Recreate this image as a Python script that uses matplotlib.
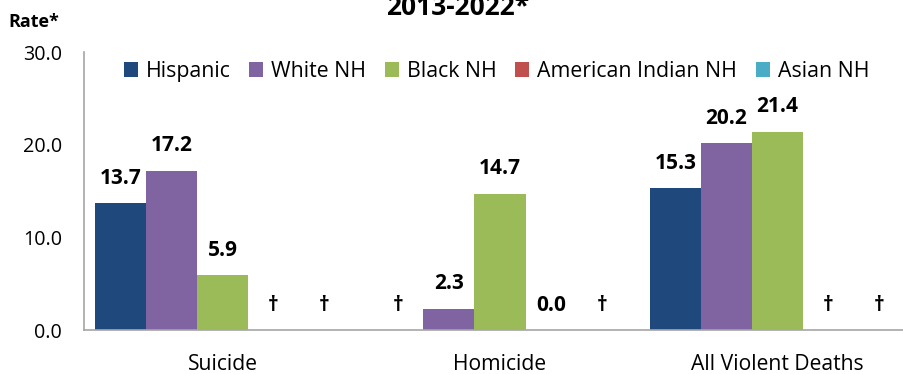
import numpy as np
import matplotlib
matplotlib.use("Agg")
import matplotlib.pyplot as plt
from matplotlib.patches import Patch

plt.rcParams["font.family"] = ["Open Sans", "DejaVu Sans"]

categories = ["Suicide", "Homicide", "All Violent Deaths"]
series_names = ["Hispanic", "White NH", "Black NH", "American Indian NH", "Asian NH"]
# None marks a suppressed rate (shown as a dagger)
hispanic = [13.7, None, 15.3]
white_nh = [17.2, 2.3, 20.2]
black_nh = [5.9, 14.7, 21.4]
american_indian_nh = [None, 0.0, None]
asian_nh = [None, None, None]
series_values = [hispanic, white_nh, black_nh, american_indian_nh, asian_nh]
colors = ["#1F497D", "#8064A2", "#9BBB59", "#C0504D", "#4BACC6"]
y_ticks = [0, 10, 20, 30]
y_tick_labels = ["0.0", "10.0", "20.0", "30.0"]

W, H = 904, 374
fig = plt.figure(figsize=(W / 100, H / 100), dpi=100)
ax = fig.add_axes([83.75 / W, (H - 330) / H, 832.5 / W, (330 - 52.3) / H])

x = np.arange(len(categories))
bw = 0.1838
for i, (vals, col) in enumerate(zip(series_values, colors)):
    xs = x + (i - 2) * bw
    heights = [0 if v is None else v for v in vals]
    ax.bar(xs, heights, width=bw, color=col, edgecolor="none")
    for xi, v in zip(xs, vals):
        label = "\u2020" if v is None else f"{v:.1f}"
        ax.annotate(label, (xi, 0 if v is None else v), xytext=(0, 14),
                    textcoords="offset points", ha="center", va="baseline",
                    fontsize=15, fontweight="bold", color="black")

ax.set_xlim(-0.5, 2.5)
ax.set_ylim(0, 30)
ax.set_yticks(y_ticks)
ax.set_yticklabels(y_tick_labels, fontsize=14.2)
ax.set_xticks(x)
ax.set_xticklabels(categories, fontsize=15.2)
ax.tick_params(axis="x", length=0, pad=17.5)
ax.tick_params(axis="y", length=0, pad=15.5)
for s in ["top", "right"]:
    ax.spines[s].set_visible(False)
for s in ["left", "bottom"]:
    ax.spines[s].set_color("#A6A6A6")
    ax.spines[s].set_linewidth(1.2)

handles = [Patch(facecolor=c, edgecolor="none") for c in colors]
fig.legend(handles, series_names, loc="center left", bbox_to_anchor=(124 / W, 1 - 71.5 / H),
           ncol=5, frameon=False, fontsize=15.3, handlelength=0.66, handleheight=0.66,
           handletextpad=0.37, columnspacing=0.88, borderaxespad=0, borderpad=0)

fig.text(8 / W, 1 - 27 / H, "Rate*", fontsize=13, fontweight="bold", va="baseline", ha="left")
fig.text(458 / W, 1 - 15 / H, "2013-2022*", fontsize=19, fontweight="bold", va="baseline", ha="center")

fig.savefig("out.png", dpi=100)
